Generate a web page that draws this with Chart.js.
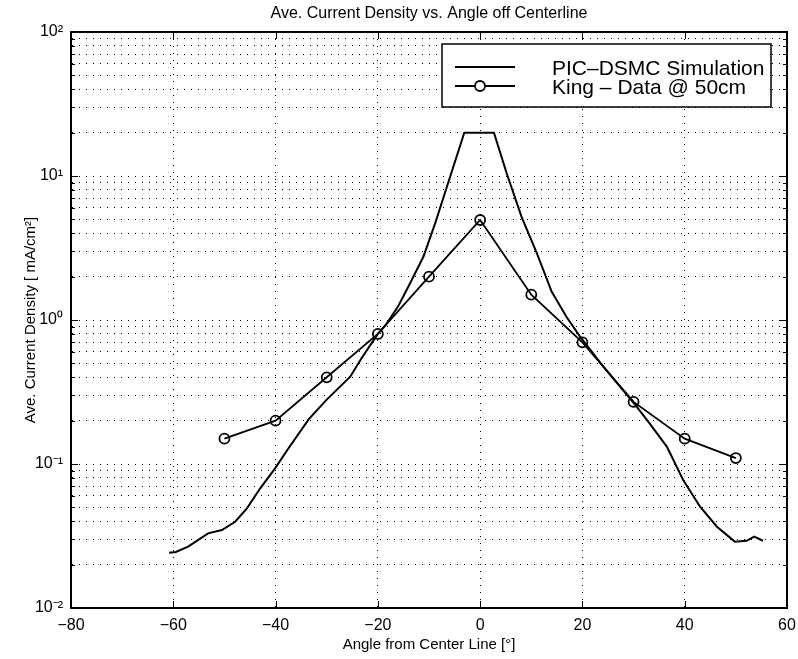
<!DOCTYPE html>
<html>
<head>
<meta charset="utf-8">
<script src="https://cdn.jsdelivr.net/npm/chart.js@4"></script>
<style>
html,body{margin:0;padding:0;background:#fff;}
canvas{display:block;}
</style>
</head>
<body>
<canvas id="chartDensity" width="798" height="659"></canvas>
<script>

const chartTitle="Ave. Current Density vs. Angle off Centerline";

const simAngle=[-60.8,-59.5,-57.1,-53.2,-50.5,-47.9,-45.6,-43.0,-40.1,-37.5,-33.5,-30.0,-25.4,-23.2,-20.0,-18.5,-16.0,-13.7,-11.1,-8.8,-6.5,-3.1,2.7,5.2,8.1,11.1,14.0,16.9,19.5,24.1,30.6,33.2,36.5,39.7,43.0,46.3,49.8,52.1,53.6,55.3];
const simDensity=[0.0242,0.0245,0.0267,0.033,0.0348,0.0397,0.0492,0.0678,0.0933,0.128,0.205,0.28,0.404,0.542,0.80,0.92,1.25,1.80,2.75,4.69,8.43,20,20,10.4,5.2,2.9,1.57,1.05,0.77,0.474,0.25,0.19,0.132,0.0774,0.0505,0.0367,0.0289,0.0293,0.0313,0.0293];

const kingAngle=[-50,-40,-30,-20,-10,0,10,20,30,40,50];
const kingDensity=[0.15,0.2,0.4,0.8,2.0,4.95,1.5,0.7,0.27,0.15,0.11];

const xTicks=[-80,-60,-40,-20,0,20,40,60];
const yDecades=[0.01,0.1,1,10,100];
const yTickLabels=['10\u207B\u00B2','10\u207B\u00B9','10\u2070','10\u00B9','10\u00B2'];

let yGrid=[];
yDecades.forEach((d,i)=>{
for(let m=1;m<=9;m++){
if(i==yDecades.length-1 && m>1) break;
yGrid.push(d*m);
}
});

const FONT="'Liberation Sans', Arial, Helvetica, sans-serif";

// MATLAB style box + inward ticks + title over the axes
const boxTicks={
id:'boxTicks',
afterDatasetsDraw(chart){
const ctx=chart.ctx;
const a=chart.chartArea;
const xs=chart.scales.x, ys=chart.scales.y;
ctx.save();
ctx.strokeStyle='#000';
ctx.lineWidth=1;
ctx.beginPath();
xTicks.forEach(v=>{
const px=Math.round(xs.getPixelForValue(v))+0.5;
ctx.moveTo(px,a.bottom);ctx.lineTo(px,a.bottom-7);
ctx.moveTo(px,a.top);ctx.lineTo(px,a.top+7);
});
yGrid.forEach(v=>{
const py=Math.round(ys.getPixelForValue(v))+0.5;
const len=yDecades.includes(v)?7:4;
ctx.moveTo(a.left,py);ctx.lineTo(a.left+len,py);
ctx.moveTo(a.right,py);ctx.lineTo(a.right-len,py);
});
ctx.stroke();
ctx.lineWidth=2;
ctx.strokeRect(a.left,a.top,a.right-a.left,a.bottom-a.top);
ctx.fillStyle='#000';
ctx.font="16px "+FONT;
ctx.textAlign='center';
ctx.textBaseline='middle';
ctx.fillText(chartTitle,(a.left+a.right)/2,a.top-18);
ctx.restore();
}
};

const legendBox={
id:'legendBox',
afterDraw(chart){
const ctx=chart.ctx;
const a=chart.chartArea;
const left=a.right-345, top=a.top+12, w=329, h=63;
ctx.save();
ctx.fillStyle='#fff';
ctx.fillRect(left,top,w,h);
ctx.strokeStyle='#000';
ctx.lineWidth=1.5;
ctx.strokeRect(left,top,w,h);
chart.data.datasets.forEach((ds,i)=>{
const y=top+23+i*19;
ctx.lineWidth=ds.borderWidth;
ctx.strokeStyle=ds.borderColor;
ctx.beginPath();
ctx.moveTo(left+13,y);ctx.lineTo(left+73,y);
ctx.stroke();
if(ds.pointRadius>0){
ctx.beginPath();
ctx.arc(left+38,y,ds.pointRadius,0,Math.PI*2);
ctx.fillStyle='#fff';
ctx.fill();
ctx.stroke();
}
ctx.fillStyle='#000';
ctx.font="21px "+FONT;
ctx.textBaseline='alphabetic';
ctx.fillText(ds.label,left+110,y+7.5);
});
ctx.restore();
}
};

new Chart(document.getElementById("chartDensity"),{
type:'line',
data:{
datasets:[{
label:"PIC\u2013DSMC Simulation",
data:simAngle.map((x,i)=>({x:x,y:simDensity[i]})),
borderColor:'#000',
borderWidth:2,
pointRadius:0,
tension:0
},{
label:"King \u2013 Data @ 50cm",
data:kingAngle.map((x,i)=>({x:x,y:kingDensity[i]})),
borderColor:'#000',
borderWidth:1.8,
pointRadius:5,
pointBorderWidth:1.8,
pointBackgroundColor:'rgba(0,0,0,0)',
pointBorderColor:'#000',
tension:0
}]
},
options:{
responsive:false,
animation:false,
devicePixelRatio:1,
layout:{padding:{left:0,right:11,top:32,bottom:0}},
plugins:{
legend:{display:false},
tooltip:{enabled:false},
title:{display:false}
},
scales:{
x:{
type:'linear',
min:-80,max:60,
afterBuildTicks:s=>{s.ticks=xTicks.map(v=>({value:v}));},
afterFit:s=>{s.height=51;s.paddingLeft=0;s.paddingRight=0;},
grid:{color:'#000',lineWidth:1,drawTicks:false},
border:{display:true,color:'#000',width:2,dash:[1,6]},
ticks:{
color:'#000',
padding:8,
font:{family:FONT,size:16},
callback:v=>String(v).replace('-','\u2212')
},
title:{
display:true,
text:"Angle from Center Line [\u00B0]",
color:'#000',
font:{family:FONT,size:15},
padding:{top:0,bottom:5}
}
},
y:{
type:'logarithmic',
min:0.01,max:100,
afterBuildTicks:s=>{s.ticks=yGrid.map(v=>({value:v}));},
afterFit:s=>{s.width=71;s.paddingTop=0;s.paddingBottom=0;},
grid:{color:'#000',lineWidth:1,drawTicks:false},
border:{display:true,color:'#000',width:2,dash:[1,6]},
ticks:{
color:'#000',
padding:8,
autoSkip:false,
font:{family:FONT,size:16},
callback:v=>{
const k=yDecades.findIndex(d=>Math.abs(d-v)/d<1e-6);
return k>=0?yTickLabels[k]:'';
}
},
title:{
display:true,
text:"Ave. Current Density [ mA/cm\u00B2]",
color:'#000',
font:{family:FONT,size:15},
padding:{top:22,bottom:0}
}
}
}
},
plugins:[boxTicks,legendBox]
});

</script>
</body>
</html>
